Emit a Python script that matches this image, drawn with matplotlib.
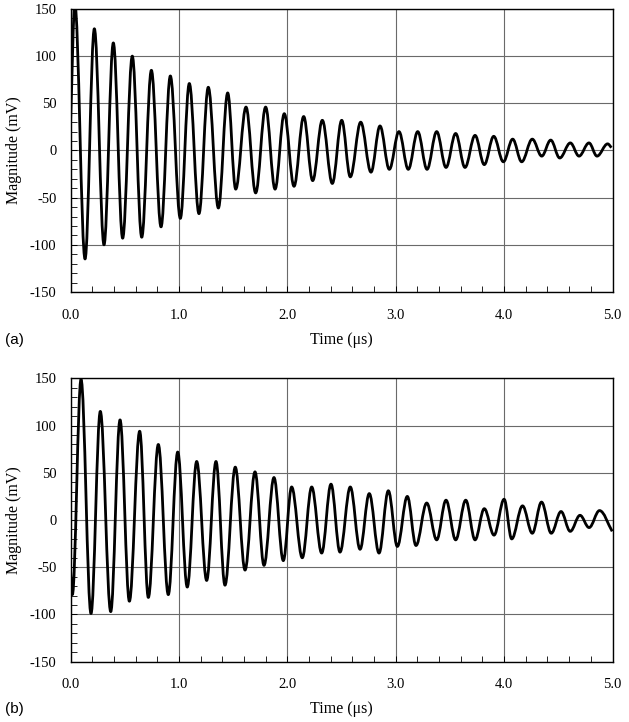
import numpy as np
import matplotlib
matplotlib.use("Agg")
import matplotlib.pyplot as plt
from matplotlib.path import Path
from matplotlib.patches import PathPatch
from matplotlib.ticker import MultipleLocator

plt.rcParams["axes.unicode_minus"] = False

# turning points (time in us, magnitude in mV)
a_time = [0.0, 0.040, 0.134, 0.220, 0.309, 0.395, 0.481, 0.570, 0.657, 0.746,
          0.835, 0.921, 1.013, 1.096, 1.185, 1.271, 1.364, 1.450, 1.524, 1.619,
          1.708, 1.800, 1.887, 1.972, 2.062, 2.151, 2.234, 2.323, 2.415, 2.502,
          2.581, 2.677, 2.772, 2.855, 2.941, 3.030, 3.116, 3.203, 3.289, 3.378,
          3.464, 3.553, 3.639, 3.732, 3.817, 3.904, 3.993, 4.079, 4.162, 4.260,
          4.347, 4.430, 4.513, 4.611, 4.691, 4.783, 4.857, 4.955, 4.990]
a_mag = [27, 155, -115, 129, -100, 114, -93, 100, -92, 85,
         -81, 79, -72, 71, -67, 67, -61, 61, -41, 46,
         -45, 46, -41, 39, -38, 36, -32, 32, -35, 32,
         -28, 30, -23, 26, -20, 20, -20, 20, -20, 20,
         -18, 18, -18, 16, -15, 15, -12, 12, -12, 12,
         -6, 11, -8, 8, -6, 8, -6, 7, 3]

b_time = [0.0, 0.017, 0.097, 0.189, 0.275, 0.371, 0.457, 0.543, 0.638, 0.718,
          0.810, 0.902, 0.989, 1.077, 1.164, 1.256, 1.342, 1.425, 1.520, 1.610,
          1.702, 1.785, 1.877, 1.963, 2.040, 2.138, 2.225, 2.317, 2.403, 2.486,
          2.581, 2.671, 2.756, 2.846, 2.932, 3.015, 3.107, 3.187, 3.286, 3.378,
          3.464, 3.553, 3.646, 3.732, 3.817, 3.907, 4.000, 4.070, 4.170, 4.260,
          4.345, 4.435, 4.525, 4.610, 4.700, 4.784, 4.880, 4.997]
b_mag = [-52, -79, 149, -99, 115, -97, 106, -86, 94, -82,
         80, -79, 72, -71, 62, -64, 62, -69, 56, -53,
         51, -48, 45, -43, 35, -40, 35, -35, 38, -34,
         35, -31, 28, -35, 31, -28, 25, -27, 18, -21,
         21, -21, 21, -21, 12, -16, 22, -20, 15, -14,
         19, -14, 9, -12, 5, -8, 10, -12]

x_ticks = [0, 1, 2, 3, 4, 5]
y_ticks = [-150, -100, -50, 0, 50, 100, 150]

serif = "Liberation Serif"


def wave_path(t, v):
    # smooth curve through the turning points: flat tangent at each peak/trough,
    # straight-ish tangent at the first and last sample
    n = len(t)
    verts = [(t[0], v[0])]
    codes = [Path.MOVETO]
    k = 1 - 2 / np.pi
    for i in range(n - 1):
        t0, v0, t1, v1 = t[i], v[i], t[i + 1], v[i + 1]
        dt = t1 - t0
        if i == 0:
            c1 = (t0 + dt / 3, v0 + (v1 - v0) / 3)
        else:
            c1 = (t0 + k * dt, v0)
        if i + 1 == n - 1:
            c2 = (t1 - dt / 3, v1 - (v1 - v0) / 3)
        else:
            c2 = (t1 - k * dt, v1)
        verts += [c1, c2, (t1, v1)]
        codes += [Path.CURVE4] * 3
    return Path(verts, codes)


def panel(ax, t, v):
    ax.add_patch(PathPatch(wave_path(t, v), facecolor="none", edgecolor="black",
                           lw=2.0, joinstyle="round", zorder=3))
    ax.set_xlim(0, 5)
    ax.set_ylim(-150, 150)
    ax.set_xticks(x_ticks)
    ax.set_xticklabels([f"{x:.1f}" for x in x_ticks])
    ax.set_yticks(y_ticks)
    ax.xaxis.set_minor_locator(MultipleLocator(0.2))
    ax.yaxis.set_minor_locator(MultipleLocator(10))
    ax.tick_params(which="both", direction="in", top=False, right=False,
                   colors="black", labelsize=10.5)
    ax.tick_params(which="major", length=4, width=0.7)
    ax.tick_params(which="minor", length=4, width=0.6)
    ax.tick_params(axis="x", pad=12)
    ax.tick_params(axis="y", pad=10)
    for lab in ax.get_xticklabels() + ax.get_yticklabels():
        lab.set_fontfamily(serif)
    ax.grid(True, which="major", color="#6a6a6a", lw=0.8)
    ax.set_axisbelow(True)
    for s in ax.spines.values():
        s.set_linewidth(1.0)
        s.set_color("black")
    ax.set_xlabel("Time (μs)", fontfamily=serif, fontsize=11.5)
    ax.set_ylabel("Magnitude (mV)", fontfamily=serif, fontsize=11.5)
    ax.xaxis.set_label_coords(0.5, -0.14)
    ax.yaxis.set_label_coords(-0.09, 0.5)


fig = plt.figure(figsize=(6.29, 7.22), dpi=100)
ax1 = fig.add_axes([0.1121, 0.5956, 0.8617, 0.3920])
ax2 = fig.add_axes([0.1121, 0.0835, 0.8617, 0.3925])
panel(ax1, a_time, a_mag)
panel(ax2, b_time, b_mag)

fig.text(0.008, 0.529, "(a)", fontfamily="Liberation Sans", fontsize=11, va="center")
fig.text(0.008, 0.018, "(b)", fontfamily="Liberation Sans", fontsize=11, va="center")

fig.savefig("out.png", dpi=100)
